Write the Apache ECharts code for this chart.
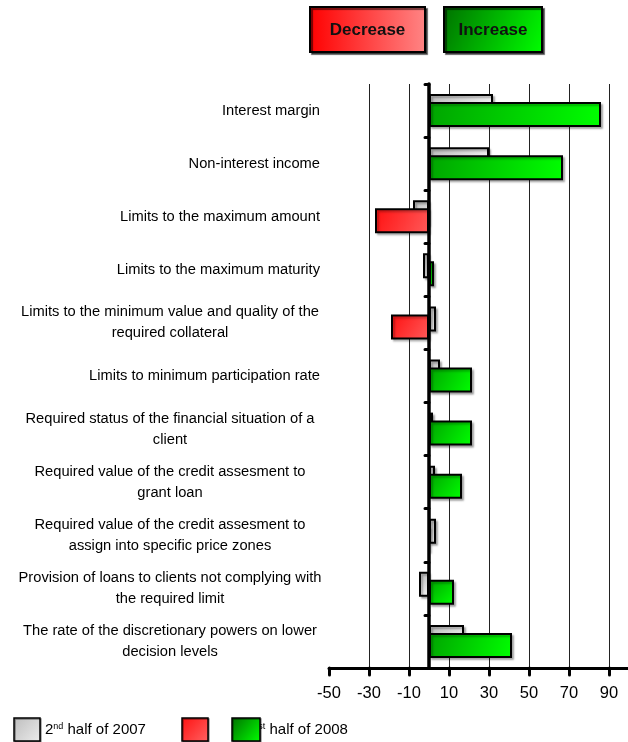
<!DOCTYPE html>
<html><head><meta charset="utf-8">
<script src="https://cdn.jsdelivr.net/npm/echarts@6/dist/echarts.min.js"></script>
<style>html,body{margin:0;padding:0;background:#fff}#c{width:628px;height:742px}</style>
</head><body><div id="c"></div>
<script>
const categories = [
  "Interest margin",
  "Non-interest income",
  "Limits to the maximum amount",
  "Limits to the maximum maturity",
  "Limits to the minimum value and quality of the\nrequired collateral",
  "Limits to minimum participation rate",
  "Required status of the financial situation of a\nclient",
  "Required value of the credit assesment to\ngrant loan",
  "Required value of the credit assesment to\nassign into specific price zones",
  "Provision of loans to clients not complying with\nthe required limit",
  "The rate of the discretionary powers on lower\ndecision levels"
];
const series2007H2 = [32, 30, -8, -3, 3.5, 5.5, 2, 3, 3.5, -5, 17.5];
const series2008H1 = [86, 67, -27, 2.5, -19, 21.5, 21.5, 16.5, 0, 12.5, 41.5];
const xTickValues = [-50, -30, -10, 10, 30, 50, 70, 90];
const seriesNames = ["2nd half of 2007", "1st half of 2008"];

const FONT = '"Liberation Sans", Arial, Helvetica, sans-serif';
function grad(x2, y2, c0, c1) {
  return {type: 'linear', x: 0, y: 0, x2: x2, y2: y2, colorStops: [{offset: 0, color: c0}, {offset: 1, color: c1}]};
}
const grayFill = grad(1, 1, '#bcbcbc', '#f4f4f4');
const incFill = grad(1, 1, '#00a400', '#00ff00');
const decFill = grad(1, 1, '#ff1010', '#ff5a5a');

const chart = echarts.init(document.getElementById('c'), null, {renderer: 'canvas'});
const barShadow = {shadowColor: 'rgba(0,0,0,0.28)', shadowBlur: 2, shadowOffsetX: 2, shadowOffsetY: 2};

chart.setOption({
  animation: false,
  backgroundColor: '#fff',
  textStyle: {fontFamily: FONT},
  grid: {left: 329, width: 300, top: 84, height: 584, containLabel: false, outerBoundsMode: 'none'},
  xAxis: {
    type: 'value', min: -50, max: 100,
    axisLine: {show: true, lineStyle: {color: '#000', width: 3}},
    axisTick: {show: true, customValues: xTickValues, length: 7, lineStyle: {color: '#000', width: 3, cap: 'round'}},
    axisLabel: {customValues: xTickValues, margin: 17, color: '#000', fontSize: 16.5, fontFamily: FONT},
    splitLine: {show: true, showMinLine: false, lineStyle: {color: '#222', width: 1}}
  },
  yAxis: {
    type: 'category', inverse: true, data: categories, z: 10,
    axisLine: {show: true, onZero: true, lineStyle: {color: '#000', width: 3.5}},
    axisTick: {show: true, length: 4, lineStyle: {color: '#000', width: 3, cap: 'round'}},
    axisLabel: {
      margin: 9, color: '#000', fontSize: 14.7, fontFamily: FONT, align: 'right', lineHeight: 21,
      formatter: function (v) {
        if (v.indexOf('\n') < 0) return v;
        return v.split('\n').map(function (l) { return '{c|' + l + '}'; }).join('\n');
      },
      rich: {c: {width: 300, align: 'center', fontSize: 14.7, lineHeight: 21, fontFamily: FONT, color: '#000'}}
    },
    splitLine: {show: false}
  },
  series: [
    {
      name: seriesNames[0], type: 'bar', barWidth: 25, barGap: '-68%',
      itemStyle: Object.assign({color: grayFill, borderColor: '#000', borderWidth: 2}, barShadow),
      data: series2007H2
    },
    {
      name: seriesNames[1], type: 'bar', barWidth: 25, barGap: '-68%',
      itemStyle: Object.assign({borderColor: '#000', borderWidth: 2}, barShadow),
      data: series2008H1.map(function (v) { return {value: v, itemStyle: {color: v < 0 ? decFill : incFill}}; })
    }
  ],
  graphic: [
    {type: 'rect', shape: {x: 310, y: 7, width: 115, height: 45},
      style: {fill: grad(1, 0, '#ff0000', '#ff8585'), stroke: '#000', lineWidth: 2, shadowColor: 'rgba(0,0,0,0.55)', shadowOffsetX: 2, shadowOffsetY: 2, shadowBlur: 1}},
    {type: 'text', x: 367.5, y: 30,
      style: {text: 'Decrease', font: 'bold 17px ' + FONT, fill: '#111', align: 'center', verticalAlign: 'middle', textAlign: 'center', textVerticalAlign: 'middle'}},
    {type: 'rect', shape: {x: 444, y: 7, width: 98, height: 45},
      style: {fill: grad(1, 1, '#007000', '#00ff00'), stroke: '#000', lineWidth: 2, shadowColor: 'rgba(0,0,0,0.55)', shadowOffsetX: 2, shadowOffsetY: 2, shadowBlur: 1}},
    {type: 'text', x: 493, y: 30,
      style: {text: 'Increase', font: 'bold 17px ' + FONT, fill: '#111', align: 'center', verticalAlign: 'middle', textAlign: 'center', textVerticalAlign: 'middle'}},

    {type: 'text', x: 45, y: 730,
      style: {text: '2{s|nd} half of 2007', font: '15px ' + FONT, fill: '#000', verticalAlign: 'middle', textVerticalAlign: 'middle',
        rich: {s: {fontSize: 9, verticalAlign: 'top', fontFamily: FONT, fill: '#000'}}}},
    {type: 'text', x: 250, y: 730,
      style: {text: '1{s|st} half of 2008', font: '15px ' + FONT, fill: '#000', verticalAlign: 'middle', textVerticalAlign: 'middle',
        rich: {s: {fontSize: 9, verticalAlign: 'top', fontFamily: FONT, fill: '#000'}}}},
    {type: 'rect', shape: {x: 14, y: 718, width: 26, height: 23},
      style: {fill: grad(1, 1, '#bdbdbd', '#ececec'), stroke: '#000', lineWidth: 1.5, shadowColor: 'rgba(0,0,0,0.4)', shadowOffsetX: 1, shadowOffsetY: 1}},
    {type: 'rect', shape: {x: 182, y: 718, width: 26, height: 23},
      style: {fill: grad(1, 1, '#ff1010', '#ff6262'), stroke: '#000', lineWidth: 1.5, shadowColor: 'rgba(0,0,0,0.4)', shadowOffsetX: 1, shadowOffsetY: 1}},
    {type: 'rect', shape: {x: 232, y: 718, width: 28, height: 23}, z: 100,
      style: {fill: grad(1, 1, '#007000', '#00ff00'), stroke: '#000', lineWidth: 1.5, shadowColor: 'rgba(0,0,0,0.4)', shadowOffsetX: 1, shadowOffsetY: 1}}
  ]
});
</script>
</body></html>
